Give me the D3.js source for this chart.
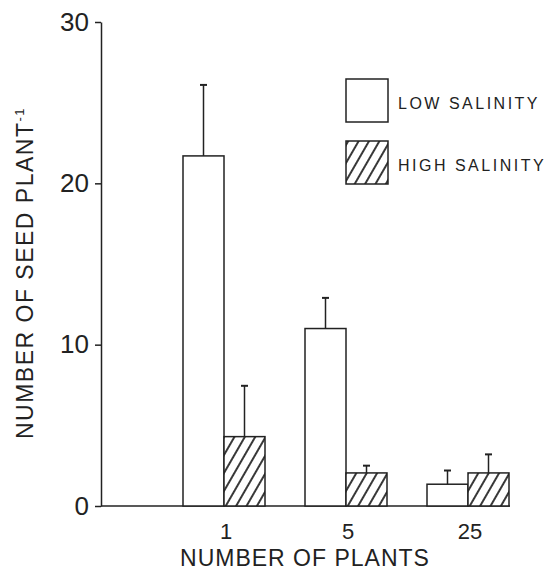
<!DOCTYPE html>
<html>
<head>
<meta charset="utf-8">
<script src="https://cdn.jsdelivr.net/npm/d3@7"></script>
<style>
  body { margin: 0; background: #fff; }
  svg { display: block; }
  text { font-family: "Liberation Sans", Arial, sans-serif; fill: #222; }
</style>
</head>
<body>
<div id="chart"></div>
<script>
var groups = ["1", "5", "25"];
var series = ["LOW SALINITY", "HIGH SALINITY"];
var lowValues = [21.7, 11.0, 1.35];
var lowErrors = [4.4, 1.9, 0.85];
var highValues = [4.3, 2.05, 2.05];
var highErrors = [3.15, 0.45, 1.15];
var yTicks = [0, 10, 20, 30];

var width = 550, height = 571;
var margin = { top: 22, right: 21, bottom: 65, left: 101 };

var svg = d3.select("#chart").append("svg")
  .attr("width", width)
  .attr("height", height);

var defs = svg.append("defs");
var pat = defs.append("pattern")
  .attr("id", "hatch")
  .attr("patternUnits", "userSpaceOnUse")
  .attr("width", 9)
  .attr("height", 9)
  .attr("patternTransform", "rotate(30)");
pat.append("rect").attr("width", 9).attr("height", 9).attr("fill", "#fff");
pat.append("line")
  .attr("x1", 2).attr("y1", 0).attr("x2", 2).attr("y2", 9)
  .attr("stroke", "#222").attr("stroke-width", 1.8);

var y = d3.scaleLinear()
  .domain([0, 30])
  .range([height - margin.bottom, margin.top]);

// step 122, bar pair 82 wide
var x = d3.scaleBand()
  .domain(groups)
  .range([183, 509])
  .paddingInner(40 / 122)
  .paddingOuter(0);

var xs = d3.scaleBand()
  .domain(series)
  .range([0, x.bandwidth()]);

var data = groups.map(function (g, i) {
  return [
    { group: g, key: series[0], value: lowValues[i], err: lowErrors[i] },
    { group: g, key: series[1], value: highValues[i], err: highErrors[i] }
  ];
});

// y axis
var yAxis = svg.append("g")
  .attr("transform", "translate(" + margin.left + ",0)")
  .call(d3.axisLeft(y).tickValues(yTicks).tickSize(6).tickPadding(6).tickSizeOuter(0));
yAxis.select(".domain").attr("stroke", "#222").attr("stroke-width", 1.5);
yAxis.selectAll(".tick line").attr("stroke", "#222").attr("stroke-width", 1.5);
yAxis.selectAll(".tick text")
  .style("font-size", "26px")
  .attr("fill", "#222");

// x axis baseline
svg.append("line")
  .attr("x1", margin.left)
  .attr("x2", 510)
  .attr("y1", y(0))
  .attr("y2", y(0))
  .attr("stroke", "#222")
  .attr("stroke-width", 1.5);

svg.append("g")
  .selectAll("text")
  .data(groups)
  .enter()
  .append("text")
  .attr("x", function (d) { return x(d) + x.bandwidth() / 2 + 2; })
  .attr("y", y(0) + 33)
  .attr("text-anchor", "middle")
  .style("font-size", "22px")
  .text(function (d) { return d; });

// bars
var gGroups = svg.append("g")
  .selectAll("g")
  .data(data)
  .enter()
  .append("g")
  .attr("transform", function (d) { return "translate(" + x(d[0].group) + ",0)"; });

gGroups.selectAll("rect")
  .data(function (d) { return d; })
  .enter()
  .append("rect")
  .attr("x", function (d) { return xs(d.key); })
  .attr("y", function (d) { return y(d.value); })
  .attr("width", xs.bandwidth())
  .attr("height", function (d) { return y(0) - y(d.value); })
  .attr("fill", function (d) { return d.key == series[0] ? "#fff" : "url(#hatch)"; })
  .attr("stroke", "#222")
  .attr("stroke-width", 1.5);

// error bars
gGroups.selectAll("line.err")
  .data(function (d) { return d; })
  .enter()
  .append("line")
  .attr("class", "err")
  .attr("x1", function (d) { return xs(d.key) + xs.bandwidth() / 2; })
  .attr("x2", function (d) { return xs(d.key) + xs.bandwidth() / 2; })
  .attr("y1", function (d) { return y(d.value); })
  .attr("y2", function (d) { return y(d.value + d.err); })
  .attr("stroke", "#222")
  .attr("stroke-width", 1.5);

gGroups.selectAll("line.cap")
  .data(function (d) { return d; })
  .enter()
  .append("line")
  .attr("class", "cap")
  .attr("x1", function (d) { return xs(d.key) + xs.bandwidth() / 2 - 3.5; })
  .attr("x2", function (d) { return xs(d.key) + xs.bandwidth() / 2 + 3.5; })
  .attr("y1", function (d) { return y(d.value + d.err); })
  .attr("y2", function (d) { return y(d.value + d.err); })
  .attr("stroke", "#222")
  .attr("stroke-width", 2);

// legend
var legend = svg.append("g")
  .selectAll("g")
  .data(series)
  .enter()
  .append("g")
  .attr("transform", function (d, i) { return "translate(346," + (79 + i * 62) + ")"; });

legend.append("rect")
  .attr("width", 42)
  .attr("height", 43)
  .attr("fill", function (d, i) { return i == 0 ? "#fff" : "url(#hatch)"; })
  .attr("stroke", "#222")
  .attr("stroke-width", 1.5);

legend.append("text")
  .attr("x", 52)
  .attr("y", 30)
  .style("font-size", "16px")
  .style("letter-spacing", "2.5px")
  .text(function (d) { return d; });

// axis titles
svg.append("text")
  .attr("x", 305)
  .attr("y", 566)
  .attr("text-anchor", "middle")
  .style("font-size", "23px")
  .style("letter-spacing", "1px")
  .text("NUMBER OF PLANTS");

var yt = svg.append("text")
  .attr("transform", "translate(33,273) rotate(-90)")
  .attr("text-anchor", "middle")
  .style("font-size", "23px")
  .style("letter-spacing", "1.5px");
yt.append("tspan").text("NUMBER OF SEED PLANT");
yt.append("tspan").attr("dy", -9).style("font-size", "13px").text("-1");
</script>
</body>
</html>
